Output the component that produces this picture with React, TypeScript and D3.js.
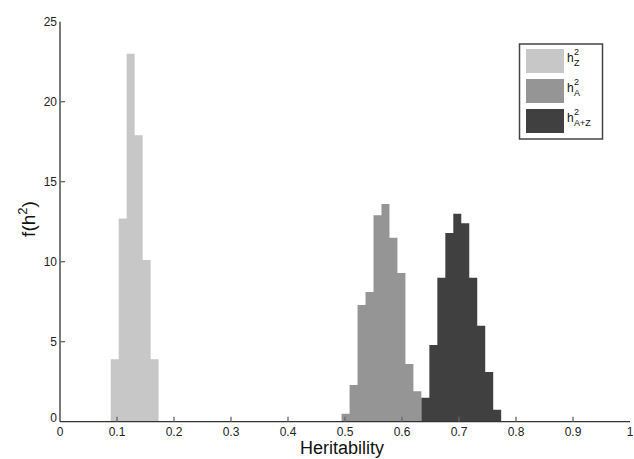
import * as d3 from "d3";

// bin width and bin starts (heritability units)
const binWidth = 0.014;

const zStart = 0.089;
const zValues = [3.9, 12.7, 23.0, 17.9, 10.1, 3.9];

const aStart = 0.494;
const aValues = [0.5, 2.3, 7.3, 8.1, 12.9, 13.6, 11.5, 9.3, 3.6, 1.9];

const azStart = 0.634;
const azValues = [1.5, 4.8, 9.0, 11.8, 13.0, 12.4, 9.0, 6.0, 3.1, 0.75];

const xTicks = [0, 0.1, 0.2, 0.3, 0.4, 0.5, 0.6, 0.7, 0.8, 0.9, 1];
const yTicks = [0, 5, 10, 15, 20, 25];

const series = [
  { key: "Z", sub: "Z", start: zStart, values: zValues, color: "#c7c7c7" },
  { key: "A", sub: "A", start: aStart, values: aValues, color: "#959595" },
  { key: "AZ", sub: "A+Z", start: azStart, values: azValues, color: "#404040" },
];

const W = 634;
const H = 459;
const font = "'Liberation Sans', Arial, sans-serif";

const App = () => {
  const x = d3.scaleLinear().domain([0, 1]).range([60, 630]);
  const y = d3.scaleLinear().domain([0, 25]).range([421.7, 21.7]);

  const area = d3
    .area<{ h: number; v: number }>()
    .x((d) => x(d.h))
    .y0(y(0))
    .y1((d) => y(d.v))
    .curve(d3.curveStepAfter);

  // histogram outline: one point per bin edge, last edge closes at 0
  const shapes = series.map((s) => {
    const pts = s.values.map((v, i) => ({ h: s.start + i * binWidth, v }));
    pts.push({ h: s.start + s.values.length * binWidth, v: 0 });
    return { ...s, d: area(pts) || "" };
  });

  return (
    <svg
      width={W}
      height={H}
      style={{ position: "absolute", left: 0, top: 0, background: "#fff" }}
      fontFamily={font}
    >
      {shapes.map((s) => (
        <path key={s.key} d={s.d} fill={s.color} />
      ))}

      {/* axes */}
      <line x1={x(0)} x2={x(1)} y1={y(0)} y2={y(0)} stroke="#333" strokeWidth={1.3} />
      <line x1={x(0)} x2={x(0)} y1={y(0)} y2={y(25)} stroke="#333" strokeWidth={1.3} />

      {xTicks.map((t) => (
        <g key={"x" + t}>
          {t > 0 && t < 1 && (
            <line x1={x(t)} x2={x(t)} y1={y(0)} y2={y(0) - 5} stroke="#666" strokeWidth={1.3} />
          )}
          <text x={x(t)} y={y(0) + 14} fontSize={12} textAnchor="middle" fill="#222">
            {String(t)}
          </text>
        </g>
      ))}

      {yTicks.map((t) => (
        <g key={"y" + t}>
          {t > 0 && t < 25 && (
            <line x1={x(0)} x2={x(0) + 5} y1={y(t)} y2={y(t)} stroke="#666" strokeWidth={1.3} />
          )}
          <text
            x={x(0) - 3}
            y={y(t) + (t === 0 ? 0 : 4)}
            fontSize={12}
            textAnchor="end"
            fill="#222"
          >
            {String(t)}
          </text>
        </g>
      ))}

      <text x={342} y={454} fontSize={18} textAnchor="middle" fill="#111">
        Heritability
      </text>

      <text
        transform="translate(35,219) rotate(-90)"
        fontSize={19}
        textAnchor="middle"
        fill="#111"
      >
        f(h<tspan fontSize={13} dy={-8}>2</tspan>
        <tspan dy={8}>)</tspan>
      </text>

      {/* legend */}
      <g>
        <rect x={519.5} y={44} width={83} height={95} fill="#fff" stroke="#444" strokeWidth={1.5} />
        {series.map((s, i) => {
          const top = 49 + i * 30;
          return (
            <g key={"leg" + s.key}>
              <rect x={526} y={top} width={38} height={24} fill={s.color} />
              <text x={567} y={top + 13} fontSize={12} fill="#111">
                h
              </text>
              <text x={574} y={top + 6} fontSize={9} fill="#111">
                2
              </text>
              <text x={574} y={top + 17} fontSize={9} fill="#111">
                {s.sub}
              </text>
            </g>
          );
        })}
      </g>
    </svg>
  );
};

export default App;
